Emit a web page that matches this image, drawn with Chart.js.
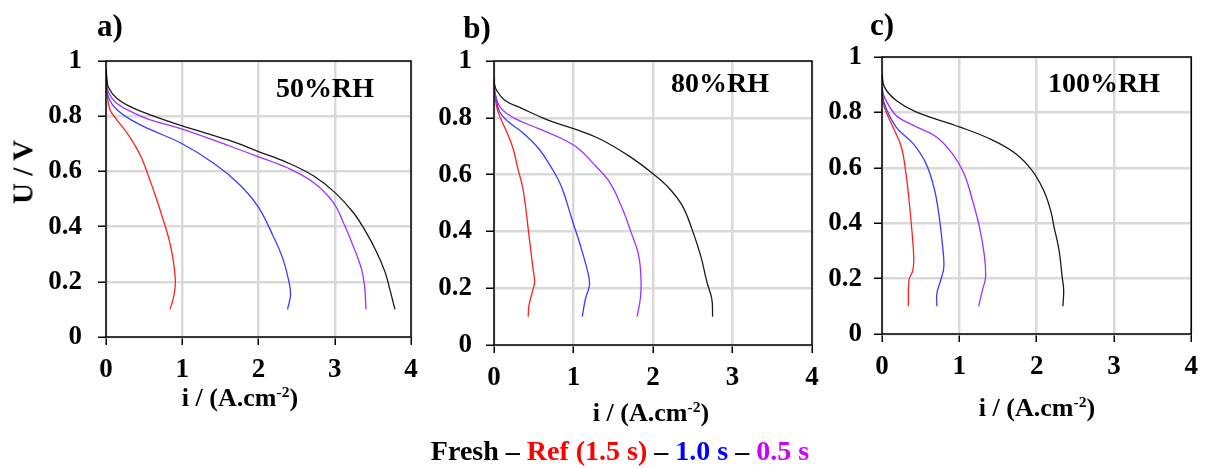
<!DOCTYPE html>
<html>
<head>
<meta charset="utf-8">
<script src="https://cdn.jsdelivr.net/npm/chart.js@4.4.0/dist/chart.umd.min.js"></script>
<style>
  body { margin: 0; background: #fff; }
  #wrap { position: relative; width: 1207px; height: 468px; overflow: hidden; }
  canvas { position: absolute; top: 0; }
  .t { position: absolute; font-family: "Liberation Serif", "Times New Roman", serif; font-weight: bold;
       white-space: nowrap; line-height: 1; transform: translate(-50%, -50%); color: #000; }
  .t sup { font-size: 60%; vertical-align: 0.55em; line-height: 0; }
</style>
</head>
<body>
<div id="wrap">
  <canvas id="ca" width="440" height="468" style="left:0px"></canvas>
  <canvas id="cb" width="410" height="468" style="left:425px"></canvas>
  <canvas id="cc" width="392" height="468" style="left:815px"></canvas>

  <div class="t" style="left:110px; top:25px; font-size:31px">a)</div>
  <div class="t" style="left:477px; top:27px; font-size:31px">b)</div>
  <div class="t" style="left:882px; top:24px; font-size:31px">c)</div>

  <div class="t" style="left:325px; top:88px; font-size:28px">50%RH</div>
  <div class="t" style="left:720px; top:83px; font-size:28px">80%RH</div>
  <div class="t" style="left:1104px; top:83px; font-size:28px">100%RH</div>

  <div class="t" style="left:240px; top:398px; font-size:26px">i / (A.cm<sup>-2</sup>)</div>
  <div class="t" style="left:651px; top:413px; font-size:26px">i / (A.cm<sup>-2</sup>)</div>
  <div class="t" style="left:1037px; top:408px; font-size:26px">i / (A.cm<sup>-2</sup>)</div>

  <div class="t" style="left:23px; top:172px; font-size:29px; transform: translate(-50%, -50%) rotate(-90deg)">U / V</div>

  <div class="t" style="left:620px; top:451px; font-size:28px">
    <span style="color:#000">Fresh</span> <span style="color:#000">&ndash;</span>
    <span style="color:#ff0000">Ref (1.5 s)</span> <span style="color:#000">&ndash;</span>
    <span style="color:#0000ff">1.0 s</span> <span style="color:#000">&ndash;</span>
    <span style="color:#cc00ff">0.5 s</span>
  </div>
</div>

<script>
// a) 50%RH
const aFreshI = [0, 0.01, 0.03, 0.14, 0.36, 0.57, 1.0, 1.62, 2.0, 2.37, 2.72, 3.0, 3.24, 3.41, 3.55, 3.66, 3.72, 3.79];
const aFreshU = [0.97, 0.94, 0.906, 0.865, 0.829, 0.806, 0.765, 0.712, 0.672, 0.633, 0.584, 0.524, 0.452, 0.38, 0.307, 0.235, 0.175, 0.10];
const aRefI = [0, 0.01, 0.05, 0.14, 0.27, 0.38, 0.47, 0.55, 0.65, 0.75, 0.83, 0.88, 0.91, 0.89, 0.84];
const aRefU = [0.92, 0.894, 0.824, 0.788, 0.741, 0.694, 0.647, 0.588, 0.51, 0.425, 0.35, 0.28, 0.20, 0.15, 0.10];
const a10I = [0, 0.01, 0.03, 0.14, 0.36, 0.57, 1.0, 1.44, 1.76, 2.0, 2.19, 2.32, 2.40, 2.42, 2.38];
const a10U = [0.96, 0.92, 0.87, 0.824, 0.782, 0.753, 0.70, 0.624, 0.55, 0.47, 0.367, 0.283, 0.199, 0.151, 0.10];
const a05I = [0, 0.01, 0.03, 0.14, 0.36, 0.57, 1.0, 1.62, 2.0, 2.37, 2.72, 2.98, 3.13, 3.24, 3.35, 3.39, 3.41];
const a05U = [0.97, 0.93, 0.888, 0.847, 0.812, 0.788, 0.753, 0.692, 0.653, 0.614, 0.56, 0.488, 0.404, 0.331, 0.247, 0.187, 0.10];

// b) 80%RH
const bFreshI = [0, 0.005, 0.03, 0.135, 0.35, 0.68, 1.0, 1.32, 1.70, 2.0, 2.2, 2.37, 2.49, 2.6, 2.68, 2.74, 2.75];
const bFreshU = [0.94, 0.92, 0.898, 0.862, 0.833, 0.792, 0.762, 0.727, 0.665, 0.603, 0.553, 0.49, 0.408, 0.314, 0.22, 0.162, 0.10];
const bRefI = [0, 0.01, 0.05, 0.16, 0.24, 0.30, 0.36, 0.40, 0.45, 0.49, 0.51, 0.48, 0.44, 0.43];
const bRefU = [0.91, 0.88, 0.821, 0.75, 0.692, 0.621, 0.556, 0.48, 0.361, 0.27, 0.22, 0.185, 0.14, 0.10];
const b10I = [0, 0.005, 0.02, 0.07, 0.18, 0.35, 0.56, 0.73, 0.85, 0.98, 1.1, 1.19, 1.2, 1.15, 1.11];
const b10U = [0.93, 0.90, 0.88, 0.821, 0.786, 0.75, 0.692, 0.621, 0.556, 0.443, 0.338, 0.244, 0.209, 0.162, 0.10];
const b05I = [0, 0.005, 0.017, 0.09, 0.26, 0.56, 0.85, 1.06, 1.27, 1.45, 1.60, 1.72, 1.82, 1.85, 1.84, 1.80];
const b05U = [0.935, 0.91, 0.88, 0.833, 0.798, 0.762, 0.727, 0.692, 0.633, 0.575, 0.49, 0.40, 0.314, 0.22, 0.162, 0.10];

// c) 100%RH
const cFreshI = [0, 0.03, 0.18, 0.44, 1.0, 1.43, 1.73, 1.94, 2.09, 2.18, 2.225, 2.29, 2.33, 2.35, 2.34];
const cFreshU = [0.94, 0.892, 0.844, 0.802, 0.748, 0.70, 0.651, 0.591, 0.519, 0.447, 0.387, 0.303, 0.207, 0.159, 0.10];
const cRefI = [0, 0.03, 0.14, 0.25, 0.31, 0.35, 0.39, 0.41, 0.40, 0.35, 0.34];
const cRefU = [0.88, 0.82, 0.748, 0.675, 0.579, 0.483, 0.363, 0.279, 0.231, 0.195, 0.10];
const c10I = [0, 0.03, 0.18, 0.40, 0.57, 0.68, 0.74, 0.78, 0.80, 0.76, 0.71, 0.71];
const c10U = [0.89, 0.832, 0.748, 0.688, 0.615, 0.519, 0.423, 0.327, 0.243, 0.195, 0.147, 0.10];
const c05I = [0, 0.03, 0.18, 0.40, 0.70, 0.91, 1.06, 1.17, 1.26, 1.32, 1.34, 1.30, 1.25];
const c05U = [0.89, 0.856, 0.79, 0.754, 0.712, 0.651, 0.579, 0.483, 0.387, 0.291, 0.207, 0.159, 0.10];

const xTicks = [0, 1, 2, 3, 4];
const yTicks = [0, 0.2, 0.4, 0.6, 0.8, 1];

const colFresh = '#1a1a1a';
const colRef = '#ff2020';
const col10 = '#3c3cff';
const col05 = '#a030ff';

const frame = {
  id: 'frame',
  afterDraw(chart) {
    const a = chart.chartArea;
    const ctx = chart.ctx;
    ctx.save();
    ctx.strokeStyle = '#000';
    ctx.lineWidth = 1.5;
    ctx.strokeRect(a.left, a.top, a.right - a.left, a.bottom - a.top);
    ctx.restore();
  }
};

function ds(xs, ys, color) {
  return {
    data: xs.map((x, k) => ({ x: x, y: ys[k] })),
    borderColor: color,
    borderWidth: 1.3,
    pointRadius: 0,
    showLine: true,
    tension: 0.4,
    fill: false
  };
}

function panel(id, yw, pad, ypad, sets) {
  const tickFont = { family: 'Liberation Serif', weight: 'bold', size: 27 };
  new Chart(document.getElementById(id), {
    type: 'scatter',
    data: { datasets: sets },
    options: {
      responsive: false,
      animation: false,
      devicePixelRatio: 1,
      layout: { padding: pad },
      plugins: { legend: { display: false }, tooltip: { enabled: false } },
      scales: {
        x: {
          type: 'linear', min: 0, max: 4,
          afterBuildTicks: s => { s.ticks = xTicks.map(v => ({ value: v })); },
          afterFit: s => { s.height = 40; },
          grid: { color: '#d9d9d9', lineWidth: 2.5, tickColor: '#000', tickLength: 8, tickWidth: 1.5 },
          border: { display: false },
          ticks: { font: tickFont, color: '#000', padding: 9, maxRotation: 0, callback: v => String(v) }
        },
        y: {
          type: 'linear', min: 0, max: 1,
          afterBuildTicks: s => { s.ticks = yTicks.map(v => ({ value: v })); },
          afterFit: s => { s.width = yw; },
          grid: { color: '#d9d9d9', lineWidth: 2.5, tickColor: '#000', tickLength: 8, tickWidth: 1.5 },
          border: { display: false },
          ticks: { font: tickFont, color: '#000', padding: ypad, callback: v => String(v) }
        }
      }
    },
    plugins: [frame]
  });
}

panel('ca', 106, { top: 61, right: 29, bottom: 91, left: 0 }, 16, [
  ds(aFreshI, aFreshU, colFresh), ds(a05I, a05U, col05), ds(a10I, a10U, col10), ds(aRefI, aRefU, colRef)
]);
panel('cb', 69, { top: 61, right: 23, bottom: 83, left: 0 }, 14, [
  ds(bFreshI, bFreshU, colFresh), ds(b05I, b05U, col05), ds(b10I, b10U, col10), ds(bRefI, bRefU, colRef)
]);
panel('cc', 67, { top: 57, right: 15, bottom: 94, left: 0 }, 12, [
  ds(cFreshI, cFreshU, colFresh), ds(c05I, c05U, col05), ds(c10I, c10U, col10), ds(cRefI, cRefU, colRef)
]);
</script>
</body>
</html>
